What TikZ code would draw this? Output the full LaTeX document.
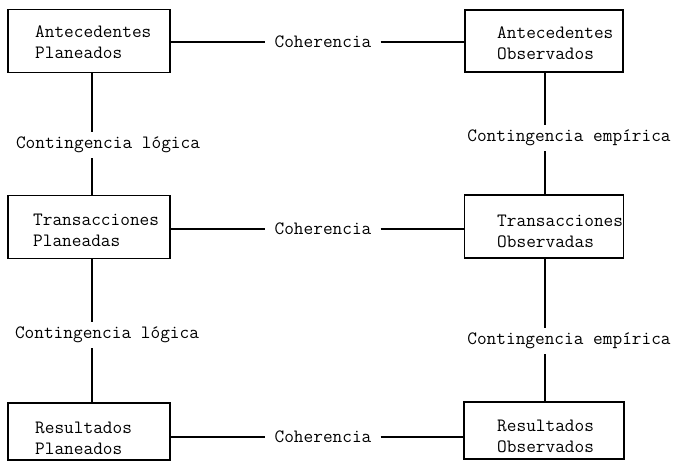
\documentclass[tikz,border=0pt]{standalone}
\usepackage{fontspec}
\usetikzlibrary{calc}
\begin{document}
\begin{tikzpicture}[x=1pt,y=1pt,
  box/.style={draw=black,line width=1.8pt,minimum width=162pt,minimum height=63pt,inner sep=0pt},
  boxtxt/.style={anchor=west,align=left,inner sep=0pt,font=\ttfamily\fontsize{18.8}{21}\selectfont},
  lbl/.style={inner xsep=9pt,inner ysep=5pt,font=\ttfamily\fontsize{18.8}{21}\selectfont},
  conn/.style={line width=1.8pt}]
\useasboundingbox[fill=white] (0,0) rectangle (679,461);
% boxes
\node[box] (ap) at (89,420) {};
\node[box,minimum width=158pt,minimum height=62pt] (ao) at (544,420) {};
\node[box] (tp) at (89,234) {};
\node[box,minimum width=159pt] (to) at (544,234.5) {};
\node[box,minimum height=57pt] (rp) at (89,29.5) {};
\node[box,minimum width=160pt,minimum height=57pt] (ro) at (544,30.5) {};
% box texts
\node[boxtxt] (apt) at (35,418.5) {Antecedentes\\Planeados};
\node[boxtxt] (aot) at (497,417.5) {Antecedentes\\Observados};
\node[boxtxt] (tpt) at (33,231) {Transacciones\\Planeadas};
\node[boxtxt] (tot) at (497,229.5) {Transacciones\\Observadas};
\node[boxtxt] (rpt) at (35,23) {Resultados\\Planeados};
\node[boxtxt] (rot) at (497,24.5) {Resultados\\Observados};
% labels
\node[lbl] (coh1) at (323,419) {Coherencia};
\node[lbl] (coh2) at (323,232) {Coherencia};
\node[lbl] (coh3) at (323,24) {Coherencia};
\node[lbl] (cl1) at (108,316) {Contingencia lógica};
\node[lbl] (cl2) at (107,126) {Contingencia lógica};
\node[lbl] (ce1) at (569,323) {Contingencia empírica};
\node[lbl] (ce2) at (569,120) {Contingencia empírica};
% horizontal connectors
\draw[conn] (ap.east |- coh1) -- (coh1.west);
\draw[conn] (coh1.east) -- (ao.west |- coh1);
\draw[conn] (tp.east |- coh2) -- (coh2.west);
\draw[conn] (coh2.east) -- (to.west |- coh2);
\draw[conn] (rp.east |- coh3) -- (coh3.west);
\draw[conn] (coh3.east) -- (ro.west |- coh3);
% vertical connectors
\draw[conn] ([xshift=3pt]ap.south) -- ([xshift=3pt]ap.south |- cl1.north);
\draw[conn] ([xshift=3pt]ap.south |- cl1.south) -- ([xshift=3pt]tp.north);
\draw[conn] ([xshift=3pt]tp.south) -- ([xshift=3pt]tp.south |- cl2.north);
\draw[conn] ([xshift=3pt]tp.south |- cl2.south) -- ([xshift=3pt]rp.north);
\draw[conn] ([xshift=1pt]ao.south) -- ([xshift=1pt]ao.south |- ce1.north);
\draw[conn] ([xshift=1pt]ao.south |- ce1.south) -- ([xshift=1pt]to.north);
\draw[conn] ([xshift=1pt]to.south) -- ([xshift=1pt]to.south |- ce2.north);
\draw[conn] ([xshift=1pt]to.south |- ce2.south) -- ([xshift=1pt]ro.north);
\end{tikzpicture}
\end{document}
